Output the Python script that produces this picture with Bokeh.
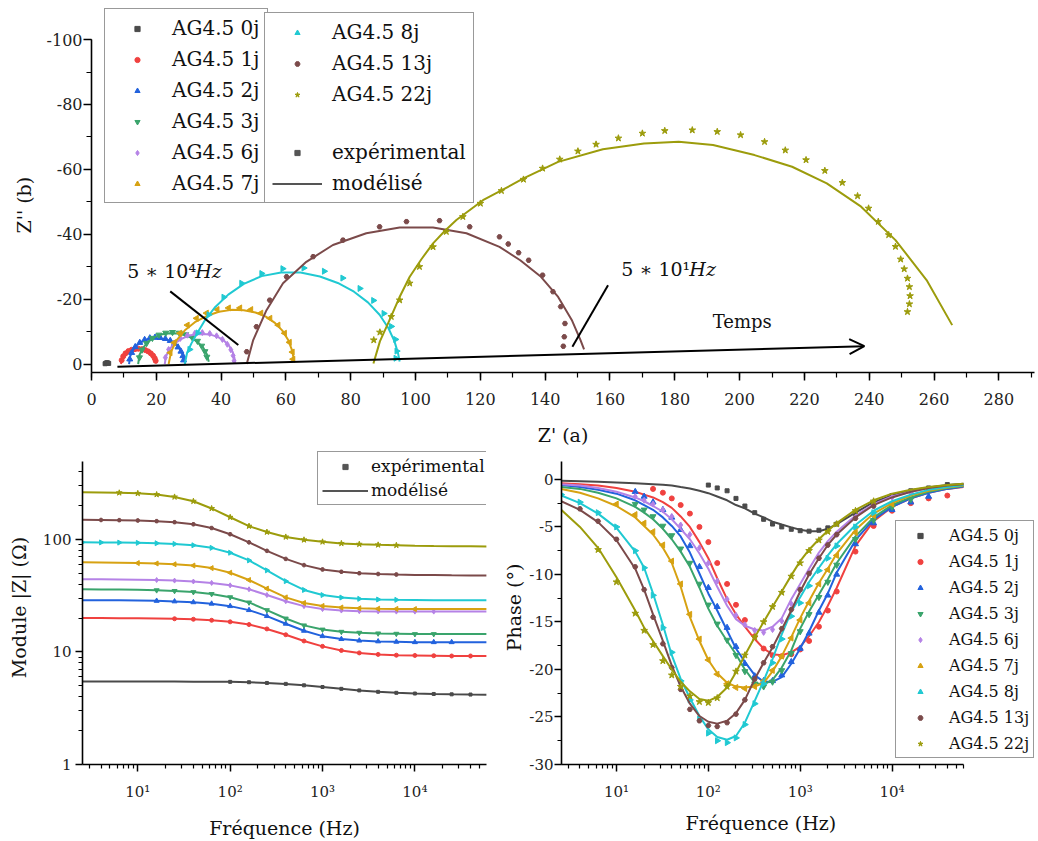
import math
from bokeh.plotting import figure
from bokeh.models import (Range1d, Legend, LegendItem, Label, Arrow, OpenHead,
                          FixedTicker, SingleIntervalTicker, Title)
from bokeh.layouts import column, row
from bokeh.embed import file_html
from bokeh.resources import INLINE

N = float("nan")
FONT = "DejaVu Serif"

SERIES = ["AG4.5 0j", "AG4.5 1j", "AG4.5 2j", "AG4.5 3j", "AG4.5 6j",
          "AG4.5 7j", "AG4.5 8j", "AG4.5 13j", "AG4.5 22j"]
COLORS = ["#4a4a4a", "#f0413f", "#2262dd", "#3aa46c", "#b582e6",
          "#d7a212", "#20c9d2", "#7b4a4a", "#9c9c0c"]
MARKERS = ["square", "circle", "triangle", "inverted_triangle", "diamond",
           "triangle", "triangle", "hex", "star"]
ANGLES = [0, 0, 0, 0, 0, math.pi / 2, -math.pi / 2, 0, 0]
MSIZE = [4, 5, 6, 6, 6, 6, 6, 5, 7]

# ---------------- Nyquist (Z' , Z'') ----------------
NYQ_MOD_RE = [
    [4.17, 4.3, 4.6, 4.9, 5.2, 5.4, 5.45],
    [9.1, 9.3, 9.8, 10.5, 11.5, 12.5, 13.5, 14.75, 16.0, 17.0, 18.0, 19.0, 19.7, 20.1],
    [11.6, 11.9, 12.8, 14.0, 15.4, 17.1, 19.0, 21.0, 22.9, 24.7, 26.3, 27.5, 28.3, 28.7],
    [14.4, 14.8, 15.9, 17.5, 19.5, 21.8, 24.2, 26.6, 28.9, 31.0, 32.9, 34.5, 35.6, 36.2],
    [22.6, 23.0, 24.0, 25.6, 27.6, 29.9, 32.3, 34.7, 37.0, 39.1, 40.9, 42.4, 43.5, 44.1, 44.3],
    [23.8, 24.6, 26.3, 28.8, 31.9, 35.5, 39.3, 43.2, 47.0, 50.6, 53.8, 56.6, 58.9, 60.7, 61.9, 62.5],
    [28.8, 29.5, 30.8, 32.6, 35.0, 38.2, 42.2, 47.0, 52.5, 58.5, 64.5, 70.5, 76.0, 81.0, 85.3,
     88.9, 91.6, 93.5, 94.6, 95.1],
    [47.9, 49.9, 54.0, 59.1, 66.3, 74.5, 84.8, 95.1, 105.4, 115.7, 125.9, 132.3, 138.7, 144.0,
     148.2, 150.9, 152.0],
    [87.0, 89.0, 92.0, 95.0, 98.2, 101.8, 105.4, 109.0, 112.6, 120.8, 126.5, 133.3, 144.0, 157.8,
     170.5, 181.2, 191.8, 204.6, 216.2, 226.9, 237.5, 248.1, 257.7, 265.6],
]
NYQ_MOD_IM = [
    [0, -0.2, -0.33, -0.35, -0.28, -0.12, -0.03],
    [0, -0.9, -1.9, -2.8, -3.6, -4.1, -4.45, -4.6, -4.45, -4.1, -3.5, -2.6, -1.5, -0.2],
    [0, -2.3, -4.3, -5.8, -6.8, -7.6, -7.9, -7.9, -7.6, -6.9, -5.8, -4.3, -2.6, -0.6],
    [0, -2.8, -5.0, -6.9, -8.3, -9.2, -9.5, -9.4, -8.9, -8.0, -6.7, -5.0, -3.0, -0.7],
    [0, -2.4, -4.5, -6.3, -7.7, -8.7, -9.2, -9.3, -9.0, -8.3, -7.2, -5.7, -3.9, -1.9, -0.4],
    [0, -3.9, -7.4, -10.4, -12.9, -14.8, -16.1, -16.7, -16.6, -15.9, -14.6, -12.7, -10.3, -7.4,
     -4.2, -1.0],
    [0, -3.5, -6.3, -9.5, -13.5, -17.6, -21.4, -24.7, -27.1, -28.2, -28.2, -27.0, -25.0, -22.3,
     -19.0, -15.2, -11.1, -7.0, -3.3, -0.8],
    [0, -7.4, -16.6, -24.9, -31.5, -36.7, -40.3, -42.1, -42.1, -40.3, -36.1, -32.0, -26.9, -20.7,
     -13.6, -7.4, -4.5],
    [-0.2, -7.0, -13.6, -20.5, -26.9, -32.3, -37.2, -41.0, -44.4, -50.5, -53.5, -57.2, -62.3,
     -66.2, -68.0, -68.5, -67.5, -64.4, -60.8, -55.7, -48.5, -38.2, -25.9, -12.0],
]
NYQ_EXP_RE = [
    [4.2, 4.45, 4.75, 5.05, 5.3],
    [9.3, 9.8, 10.5, 11.4, 12.4, 13.4, 14.5, 15.6, 16.6, 17.5, 18.3, 19.0, 19.5, 19.8],
    [11.8, 12.4, 13.5, 14.9, 16.4, 18.0, 19.6, 21.2, 22.8, 24.3, 25.6, 26.7, 27.6, 28.2, 28.4],
    [14.8, 15.6, 17.0, 18.8, 20.8, 22.9, 25.0, 27.1, 29.1, 31.0, 32.7, 34.0, 35.0, 35.6],
    [22.8, 23.8, 25.4, 27.4, 29.6, 31.9, 34.2, 36.5, 38.6, 40.4, 41.9, 43.0, 43.7, 44.0],
    [24.3, 25.5, 27.3, 29.6, 32.4, 35.5, 38.8, 42.3, 45.8, 49.2, 52.3, 55.1, 57.6, 59.6, 61.1,
     62.0, 62.2],
    [30.3, 32.8, 36.2, 40.8, 46.3, 52.5, 59.0, 65.5, 71.8, 77.5, 82.8, 87.0, 90.2, 92.5, 93.8,
     94.2, 93.9],
    [47.9, 50.9, 55.0, 60.2, 68.4, 77.6, 88.9, 97.2, 107.4, 116.7, 125.9, 128.6, 131.8, 134.9,
     139.2, 142.4, 144.8, 146.1, 145.9, 145.6],
    [87.1, 89.0, 92.5, 95.1, 98.2, 101.2, 105.4, 109.5, 114.6, 120.0, 126.5, 133.3, 139.2, 144.5,
     150.1, 155.7, 162.6, 170.0, 176.9, 185.4, 193.1, 200.3, 207.7, 214.1, 220.5, 226.3, 231.7,
     236.4, 239.8, 242.8, 246.0, 248.1, 249.7, 250.8, 251.8, 252.4, 252.6, 252.4, 251.8],
]
NYQ_EXP_IM = [
    [-0.1, -0.3, -0.4, -0.35, -0.2],
    [-1.2, -2.4, -3.3, -4.0, -4.4, -4.6, -4.7, -4.6, -4.3, -3.9, -3.3, -2.6, -1.8, -1.0],
    [-1.5, -3.5, -5.3, -6.6, -7.5, -8.0, -8.2, -8.1, -7.8, -7.2, -6.3, -5.2, -3.9, -2.5, -1.2],
    [-2.0, -4.4, -6.4, -8.0, -9.0, -9.6, -9.8, -9.6, -9.1, -8.3, -7.1, -5.6, -3.9, -2.2],
    [-2.0, -4.5, -6.4, -7.9, -8.9, -9.5, -9.7, -9.4, -8.7, -7.6, -6.1, -4.4, -2.6, -1.0],
    [-3.5, -6.6, -9.5, -12.0, -14.1, -15.7, -16.8, -17.3, -17.3, -16.8, -15.7, -14.1, -12.0,
     -9.5, -6.7, -3.7, -1.5],
    [-4.5, -9.6, -15.2, -20.6, -24.9, -27.9, -29.4, -29.6, -28.6, -26.5, -23.3, -19.6, -15.6,
     -11.6, -7.6, -4.0, -1.8],
    [-3.8, -11.5, -19.7, -26.9, -33.1, -38.2, -42.3, -43.9, -44.2, -42.3, -39.2, -37.0, -34.3,
     -32.0, -27.4, -22.3, -17.7, -12.5, -8.4, -5.5],
    [-7.4, -9.8, -14.6, -19.7, -24.9, -30.0, -36.1, -40.8, -45.4, -49.5, -53.4, -56.9, -60.3,
     -63.1, -65.6, -67.7, -69.6, -71.1, -71.9, -72.1, -71.6, -70.6, -68.5, -65.9, -62.9, -59.6,
     -55.9, -51.8, -48.0, -43.9, -39.8, -36.2, -32.3, -29.3, -26.4, -23.8, -21.0, -18.5, -16.1],
]

# ---------------- Bode |Z| ----------------
FREQ_Z = [2.5, 4, 6.3, 10, 16, 25, 40, 63, 100, 160, 250, 400, 630, 1000, 1600, 2500, 4000,
          6300, 10000, 16000, 25000, 40000, 60000]

MOD_Z = [
    [5.45, 5.45, 5.45, 5.45, 5.45, 5.45, 5.44, 5.43, 5.42, 5.38, 5.3, 5.2, 5.05, 4.88, 4.7, 4.55,
     4.42, 4.33, 4.27, 4.23, 4.2, 4.18, 4.17],
    [20.0, 20.0, 19.9, 19.9, 19.8, 19.7, 19.5, 19.1, 18.5, 17.5, 16.0, 14.2, 12.5, 11.2, 10.3,
     9.8, 9.5, 9.35, 9.3, 9.25, 9.2, 9.2, 9.2],
    [28.8, 28.8, 28.7, 28.6, 28.4, 28.1, 27.6, 26.8, 25.5, 23.5, 20.8, 17.8, 15.4, 13.8, 13.0,
     12.6, 12.4, 12.3, 12.2, 12.2, 12.2, 12.2, 12.2],
    [36.0, 35.9, 35.8, 35.6, 35.3, 34.8, 34.0, 32.7, 30.6, 27.5, 23.5, 19.8, 17.2, 15.8, 15.1,
     14.8, 14.6, 14.5, 14.4, 14.4, 14.4, 14.4, 14.4],
    [44.3, 44.2, 44.0, 43.8, 43.5, 43.0, 42.2, 41.0, 39.0, 36.0, 32.0, 28.2, 25.5, 24.0, 23.3,
     23.0, 22.9, 22.8, 22.8, 22.8, 22.8, 22.8, 22.8],
    [62.5, 62.3, 62.0, 61.5, 61.0, 60.0, 58.5, 55.5, 50.5, 43.5, 36.5, 30.5, 27.2, 25.6, 24.8,
     24.4, 24.2, 24.1, 24.0, 24.0, 24.0, 24.0, 24.0],
    [94.0, 93.8, 93.5, 93.0, 92.3, 91.0, 88.5, 84.0, 76.0, 65.0, 53.0, 42.5, 35.5, 32.0, 30.4,
     29.6, 29.2, 29.0, 28.9, 28.8, 28.8, 28.8, 28.8],
    [149, 148.5, 148, 147, 145, 142, 136, 126, 111, 94, 79, 67, 59, 54, 51.5, 50, 49.2, 48.7,
     48.3, 48.1, 47.9, 47.8, 47.7],
    [262, 261, 259, 256, 250, 238, 218, 188, 157, 131, 116, 105, 99, 95, 92, 90.5, 89.3, 88.5,
     87.8, 87.3, 87, 86.6, 86.3],
]
# frequency span covered by the measured points of each sample
EXP_FMIN = [100, 22, 12, 12, 11, 7, 2.5, 4, 5]
EXP_FMAX = [50000, 50000, 25000, 20000, 20000, 15000, 9000, 8000, 6600]

# ---------------- Bode phase ----------------
FREQ_PH = [2.5, 4, 6.3, 10, 16, 20, 25, 32, 40, 50, 63, 80, 100, 125, 160, 200, 250, 320, 400,
           500, 630, 800, 1000, 1250, 1600, 2000, 2500, 4000, 6300, 10000, 16000, 25000, 40000,
           60000]
MOD_PH = [
    [-0.15, -0.2, -0.26, -0.33, -0.4, -0.45, -0.5, -0.57, -0.65, -0.8, -0.95, -1.2, -1.45, -1.8,
     -2.2, -2.7, -3.05, -3.6, -4.0, -4.45, -4.75, -5.05, -5.3, -5.45, -5.45, -5.2, -4.7, -3.5,
     -2.4, -1.7, -1.15, -0.85, -0.6, -0.45],
    [-0.4, -0.5, -0.65, -0.9, -1.3, -1.6, -1.9, -2.4, -3.0, -3.9, -5.0, -6.6, -8.3, -10.4, -12.6,
     -14.2, -15.5, -16.8, -17.8, -18.4, -18.5, -18.2, -17.6, -16.5, -15.0, -13.3, -11.4, -7.0,
     -4.4, -2.9, -2.0, -1.4, -1.0, -0.8],
    [-0.6, -0.8, -1.1, -1.5, -2.2, -2.7, -3.2, -4.0, -4.9, -6.0, -7.7, -9.9, -12.0, -13.8, -15.9,
     -17.8, -19.2, -20.6, -21.3, -21.3, -20.8, -19.4, -17.8, -16.0, -13.8, -12.0, -9.8, -6.4,
     -4.2, -2.9, -2.0, -1.4, -1.0, -0.75],
    [-0.8, -1.0, -1.4, -2.0, -2.9, -3.5, -4.2, -5.2, -6.3, -7.6, -9.2, -11.4, -13.6, -15.4, -17.0,
     -18.4, -20.0, -21.4, -21.6, -21.1, -19.8, -18.0, -15.7, -13.9, -12.1, -10.5, -8.8, -6.0,
     -4.0, -2.7, -1.9, -1.3, -0.9, -0.7],
    [-0.5, -0.65, -0.9, -1.3, -1.9, -2.3, -2.8, -3.4, -4.2, -5.2, -6.3, -7.8, -9.4, -11.3, -13.3,
     -14.7, -15.4, -15.8, -15.9, -15.5, -14.6, -12.6, -11.0, -9.4, -7.7, -6.5, -5.5, -3.8, -2.6,
     -1.8, -1.3, -0.9, -0.65, -0.5],
    [-1.0, -1.4, -2.0, -2.8, -4.0, -4.9, -5.8, -7.2, -8.8, -11.3, -14.5, -17.0, -19.0, -20.4,
     -21.4, -21.8, -21.9, -21.8, -21.4, -20.2, -18.6, -16.6, -14.6, -12.8, -10.9, -9.4, -7.8,
     -5.3, -3.6, -2.5, -1.7, -1.2, -0.85, -0.65],
    [-1.7, -2.5, -3.6, -5.1, -7.6, -9.3, -12.0, -15.3, -18.5, -21.0, -23.0, -24.9, -26.3, -27.1,
     -27.4, -27.0, -25.6, -23.3, -21.2, -18.9, -16.3, -13.9, -12.4, -10.8, -9.3, -8.0, -6.8,
     -4.8, -3.3, -2.3, -1.6, -1.1, -0.8, -0.6],
    [-2.3, -3.2, -4.5, -6.4, -9.4, -11.6, -14.2, -17.0, -19.6, -21.8, -23.6, -24.9, -25.5, -25.7,
     -25.4, -24.6, -23.2, -21.0, -19.3, -17.7, -15.8, -13.8, -11.8, -10.0, -8.3, -6.9, -5.8,
     -4.0, -2.7, -1.9, -1.3, -0.9, -0.65, -0.5],
    [-3.2, -5.0, -7.2, -10.3, -13.8, -15.6, -17.0, -18.6, -20.0, -21.3, -22.3, -23.1, -23.3,
     -22.9, -21.9, -20.3, -18.5, -16.6, -15.0, -13.4, -11.8, -10.1, -8.6, -7.4, -6.3, -5.4, -4.6,
     -3.2, -2.2, -1.5, -1.1, -0.8, -0.6, -0.45],
]
EXP_PH = [
    [N] * 12 + [-0.6, -0.9, -1.2, -2.0, -2.8, -3.5, -4.2, -4.7, -5.0, -5.25, -5.4, -5.45, -5.35,
                -5.1, -4.7, -3.6, -2.4, -1.7, -1.2, -0.9, -0.55, N],
    [N] * 6 + [-1.0, -1.4, -2.0, -2.7, -3.6, -5.0, -6.6, -8.8, -11.0, -13.2, -14.8, -16.5,
               -17.8, -18.5, -18.6, -18.4, -17.9, -17.0, -15.5, -13.8, -11.8, -7.6, -4.9, -3.3,
               -2.5, -2.0, -1.7, N],
    [N] * 4 + [-1.3, -1.8, -2.4, -3.2, -4.0, -5.3, -7.0, -9.2, -11.4, -13.4, -15.6, -17.6,
               -19.4, -20.7, -21.2, -21.2, -20.6, -19.2, -17.8, -16.2, -14.0, -12.2, -10.0,
               -6.8, -4.6, -3.2, -2.4, -1.8, N, N],
    [N] * 4 + [-2.6, -3.2, -3.9, -4.9, -5.9, -7.3, -8.8, -11.0, -13.2, -15.2, -16.9, -18.5,
               -20.2, -21.5, -21.8, -21.3, -20.1, -18.3, -16.0, -14.2, -12.4, -10.8, -9.0, -6.3,
               -4.3, -2.9, -2.1, N, N, N],
    [N] * 4 + [-1.8, -2.2, -2.6, -3.2, -3.9, -4.8, -5.8, -7.2, -8.8, -10.7, -12.6, -14.3,
               -15.3, -15.9, -16.1, -15.8, -14.9, -13.1, -11.6, -9.8, -8.2, -6.9, -5.8, -4.0,
               -2.8, -1.9, -1.4, N, N, N],
    [N] * 3 + [-2.6, -3.7, -4.6, -5.5, -6.9, -8.6, -11.0, -14.2, -16.8, -19.0, -20.5, -21.5,
               -21.9, -22.0, -21.8, -21.2, -20.1, -18.6, -16.7, -14.8, -13.0, -11.0, -9.5,
               -8.0, -5.6, -3.8, -2.6, N, N, N, N],
    [-1.6, -2.4, -3.5, -5.0, -7.5, -9.3, -12.2, -15.6, -18.2, -21.2, -23.2, -25.2, -26.7, -27.5,
     -27.7, -27.2, -25.8, -23.6, -21.5, -19.3, -16.8, -14.4, -13.0, -11.2, -9.6, -8.3, -7.0,
     -5.0, -3.5, N, N, N, N, N],
    [N] + [-3.1, -4.4, -6.3, -9.2, -11.6, -14.5, -17.3, -19.8, -22.1, -24.2, -25.4, -25.9, -26.0,
           -25.6, -24.7, -23.2, -21.0, -19.3, -17.6, -15.7, -13.7, -11.6, -9.9, -8.3, -6.9,
           -5.8, -4.1, -2.8, N, N, N, N, N],
    [N] * 2 + [-7.4, -10.8, -14.1, -15.9, -17.4, -19.1, -20.6, -21.8, -22.8, -23.4, -23.5,
               -23.0, -21.8, -20.2, -18.5, -16.6, -15.0, -13.4, -11.9, -10.2, -8.8, -7.5, -6.4,
               -5.5, -4.7, -3.3, -2.3, N, N, N, N, N],
]


def style_axes(p, tick_size, title_size, tick_out=8, minor_out=5):
    for ax in p.axis:
        ax.axis_line_width = 1.6
        ax.axis_line_color = "black"
        ax.major_tick_line_width = 1.5
        ax.minor_tick_line_width = 1.2
        ax.major_tick_in = 0
        ax.major_tick_out = tick_out
        ax.minor_tick_in = 0
        ax.minor_tick_out = minor_out
        ax.major_label_text_font = FONT
        ax.major_label_text_font_size = tick_size
        ax.major_label_text_color = "#222222"
        ax.axis_label_text_font = FONT
        ax.axis_label_text_font_size = title_size
        ax.axis_label_text_font_style = "normal"
        ax.axis_label_text_color = "#111111"
    p.xgrid.visible = False
    p.ygrid.visible = False
    p.outline_line_color = None
    p.background_fill_color = "white"
    p.border_fill_color = "white"


def style_legend(leg, font_size):
    leg.label_text_font = FONT
    leg.label_text_font_size = font_size
    leg.label_text_color = "#111111"
    leg.border_line_color = "#333333"
    leg.border_line_width = 1.5
    leg.background_fill_color = "white"
    leg.background_fill_alpha = 1.0
    leg.margin = 0


def side_title(text, align, offset, standoff):
    return Title(text=text, align=align, offset=offset, standoff=standoff,
                 vertical_align="middle", text_font=FONT, text_font_size="19px",
                 text_font_style="normal", text_color="#111111")


# ================= top: Nyquist =================
# frame reaches the top of the canvas so that the legend is not clipped;
# the y axis itself is bounded to [-100, 2.6]
p1 = figure(width=1036, height=450, x_range=Range1d(0, 291), y_range=Range1d(2.6, -112.04),
            output_backend="svg", toolbar_location=None,
            min_border_left=91, min_border_right=2, min_border_top=0, min_border_bottom=78,
            x_axis_label="Z' (a)")
p1.xaxis.ticker = SingleIntervalTicker(interval=20, num_minor_ticks=2)
p1.yaxis.ticker = SingleIntervalTicker(interval=20, num_minor_ticks=2)
p1.yaxis.bounds = (-100, 2.6)
p1.yaxis.major_label_overrides = {v: str(v) for v in [-100, -80, -60, -40, -20, 0]}
style_axes(p1, "16px", "19px")
p1.xaxis.major_label_standoff = 12
p1.xaxis.axis_label_standoff = 16
p1.yaxis.major_label_standoff = 1
p1.add_layout(side_title("Z'' (b)", "left", 139, 16), "left")

exp_r1 = []
for i in range(9):
    p1.line(NYQ_MOD_RE[i], NYQ_MOD_IM[i], line_color=COLORS[i], line_width=2)
    r = p1.scatter(NYQ_EXP_RE[i], NYQ_EXP_IM[i], marker=MARKERS[i], angle=ANGLES[i],
                   size=MSIZE[i], color=COLORS[i])
    exp_r1.append(r)

blank = p1.scatter([N], [N], size=1, fill_alpha=0, line_alpha=0)
dummy_exp1 = p1.scatter([N], [N], marker="square", size=5, color="#555555")
dummy_mod1 = p1.line([N], [N], line_color="#555555", line_width=2)

# annotations
p1.add_layout(Arrow(end=None, x_start=24.3, y_start=-22.4, x_end=45.3, y_end=-5.9,
                    line_width=2, line_color="black"))
p1.add_layout(Arrow(end=None, x_start=159.4, y_start=-24.3, x_end=148.4, y_end=-5.3,
                    line_width=2, line_color="black"))
p1.add_layout(Arrow(end=OpenHead(size=15, line_width=2, line_color="black"),
                    x_start=8.0, y_start=0.8, x_end=238.5, y_end=-5.5,
                    line_width=2, line_color="black"))
for (lx, ly, sup) in [(11.0, -28.7, "5 ∗ 10⁴"), (163.5, -29.4, "5 ∗ 10¹")]:
    p1.add_layout(Label(x=lx, y=ly, text=sup, text_font=FONT, text_font_size="19px",
                        text_baseline="middle", text_color="#111111"))
    p1.add_layout(Label(x=lx, y=ly, x_offset=68, text="Hz", text_font=FONT,
                        text_font_size="19px", text_font_style="italic",
                        text_baseline="middle", text_color="#111111"))
p1.add_layout(Label(x=200.8, y=-13.0, text="Temps", text_font=FONT, text_font_size="18px",
                    text_align="center", text_baseline="middle", text_color="#111111"))

leg_a = Legend(items=[LegendItem(label=SERIES[i], renderers=[exp_r1[i]]) for i in range(6)],
               location=(13, 169), padding=7, spacing=7, glyph_width=50, glyph_height=13,
               label_height=20, label_standoff=10)
leg_b = Legend(items=[LegendItem(label=SERIES[6], renderers=[exp_r1[6]]),
                      LegendItem(label=SERIES[7], renderers=[exp_r1[7]]),
                      LegendItem(label=SERIES[8], renderers=[exp_r1[8]]),
                      LegendItem(label=" ", renderers=[blank]),
                      LegendItem(label="expérimental", renderers=[dummy_exp1]),
                      LegendItem(label="modélisé", renderers=[dummy_mod1])],
               location=(173, 169), padding=7, spacing=7, glyph_width=50, glyph_height=13,
               label_height=20, label_standoff=10)
for lg in (leg_a, leg_b):
    style_legend(lg, "20px")
    p1.add_layout(lg)

# log ticks
MAJ_F = [10, 100, 1000, 10000]
MIN_F = [m * 10 ** e for e in range(0, 5) for m in range(2, 10) if 2.5 <= m * 10 ** e <= 60000]
F_LABELS = {10: "10¹", 100: "10²", 1000: "10³", 10000: "10⁴"}


def exp_values(vals, i):
    return [v if EXP_FMIN[i] <= f <= EXP_FMAX[i] else N for f, v in zip(FREQ_Z, vals)]


# ================= bottom-left: |Z| =================
p2 = figure(width=500, height=391, x_axis_type="log", y_axis_type="log",
            x_range=Range1d(2.52, 59600), y_range=Range1d(1, 615),
            output_backend="svg", toolbar_location=None,
            min_border_left=82, min_border_right=14, min_border_top=0, min_border_bottom=73,
            x_axis_label="Fréquence (Hz)", y_axis_label="Module |Z| (Ω)")
p2.xaxis.ticker = FixedTicker(ticks=MAJ_F, minor_ticks=MIN_F)
p2.xaxis.major_label_overrides = F_LABELS
p2.yaxis.ticker = FixedTicker(ticks=[1, 10, 100],
                              minor_ticks=[2, 3, 4, 5, 6, 7, 8, 9, 20, 30, 40, 50, 60, 70, 80,
                                           90, 200, 300, 400])
p2.yaxis.bounds = (1, 493)
p2.yaxis.major_label_overrides = {1: "1", 10: "10", 100: "100"}
style_axes(p2, "15px", "19px", tick_out=7, minor_out=4)
p2.xaxis.major_label_standoff = 11
p2.xaxis.axis_label_standoff = 13
p2.yaxis.major_label_standoff = 4
p2.yaxis.axis_label_standoff = 10

for i in range(9):
    p2.line(FREQ_Z, MOD_Z[i], line_color=COLORS[i], line_width=2)
    p2.scatter(FREQ_Z, exp_values(MOD_Z[i], i), marker=MARKERS[i], angle=ANGLES[i],
               size=MSIZE[i] - 1, color=COLORS[i])
dummy_exp2 = p2.scatter([N], [N], marker="square", size=5, color="#555555")
dummy_mod2 = p2.line([N], [N], line_color="#555555", line_width=2)
leg2 = Legend(items=[LegendItem(label="expérimental", renderers=[dummy_exp2]),
                     LegendItem(label="modélisé", renderers=[dummy_mod2])],
              location=(235, 259), padding=4, spacing=4, glyph_width=46, glyph_height=13,
              label_height=20, label_standoff=3)
style_legend(leg2, "17px")
p2.add_layout(leg2)

# ================= bottom-right: phase =================
# frame extends to the right edge and upwards so that the legend is not clipped;
# the axes are bounded to the data span
p3 = figure(width=536, height=391, x_axis_type="log",
            x_range=Range1d(2.52, 374000), y_range=Range1d(-30, 3.04),
            output_backend="svg", toolbar_location=None,
            min_border_left=59, min_border_right=0, min_border_top=0, min_border_bottom=73,
            y_axis_label="Phase (°)")
p3.xaxis.ticker = FixedTicker(ticks=MAJ_F, minor_ticks=MIN_F)
p3.xaxis.major_label_overrides = F_LABELS
p3.xaxis.bounds = (2.52, 59600)
p3.yaxis.bounds = (-30, 1.9)
p3.yaxis.ticker = SingleIntervalTicker(interval=5, num_minor_ticks=2)
p3.yaxis.major_label_overrides = {v: str(v) for v in [-30, -25, -20, -15, -10, -5, 0]}
style_axes(p3, "15px", "19px", tick_out=7, minor_out=4)
p3.xaxis.major_label_standoff = 11
p3.yaxis.major_label_standoff = 1
p3.yaxis.axis_label_standoff = 1
p3.add_layout(side_title("Fréquence (Hz)", "left", 124, 14), "below")

exp_r3 = []
for i in range(9):
    p3.line(FREQ_PH, MOD_PH[i], line_color=COLORS[i], line_width=2)
    r = p3.scatter(FREQ_PH, EXP_PH[i], marker=MARKERS[i], angle=ANGLES[i], size=MSIZE[i],
                   color=COLORS[i])
    exp_r3.append(r)
leg3 = Legend(items=[LegendItem(label=SERIES[i], renderers=[exp_r3[i]]) for i in range(9)],
              location=(334, 6), padding=4, spacing=6, glyph_width=40, glyph_height=13,
              label_height=20, label_standoff=9)
style_legend(leg3, "16px")
p3.add_layout(leg3)

layout = column(p1, row(p2, p3))
open("out.html", "w").write(file_html(layout, INLINE))
